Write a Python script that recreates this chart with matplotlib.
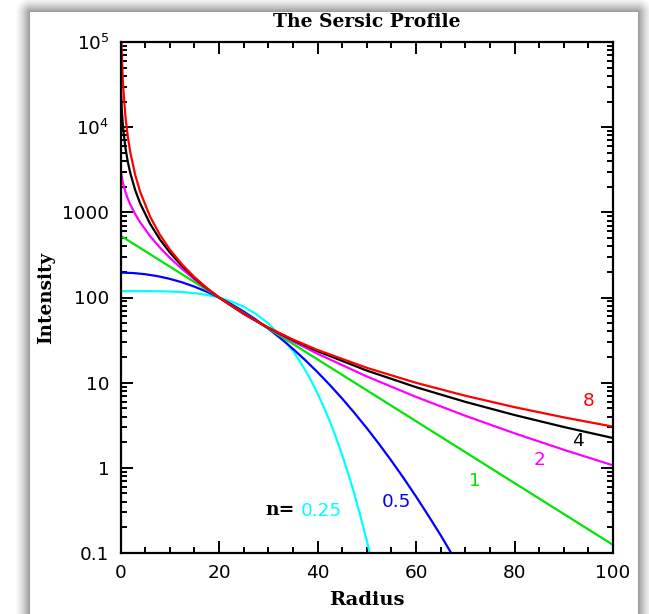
import numpy as np
import matplotlib
matplotlib.use("Agg")
import matplotlib.pyplot as plt
from matplotlib.ticker import FixedLocator, MultipleLocator, LogLocator, NullFormatter

# ---------------- data ----------------
radius_025 = [0, 2.5, 5, 7.5, 10, 12.5, 15, 17.5, 20, 22.5, 25, 27.5, 30, 32.5, 33.75, 35,
              36.25, 37.5, 38.75, 40, 41.25, 42.5, 43.75, 45, 46.25, 47.5, 48.75, 50, 51.25]
intensity_025 = [118.9, 118.85, 118.8, 118.4, 117.6, 115.8, 112.5, 107.4, 100.0, 90.1, 78.0,
                 64.1, 49.6, 35.6, 29.30, 23.5, 18.43, 14.06, 10.43, 7.50, 5.221, 3.51,
                 2.278, 1.42, 0.8514, 0.488, 0.2675, 0.140, 0.06935]

radius_05 = [0, 2.5, 5, 7.5, 10, 12.5, 15, 17.5, 20, 22.5, 25, 27.5, 30, 32.5, 35, 37.5,
             40, 42.5, 45, 47.5, 50, 52.5, 55, 57.5, 60, 62.5, 65, 67.5, 70]
intensity_05 = [195.9, 193.9, 187.8, 178.2, 165.6, 150.7, 134.2, 117.1, 100.0, 83.64, 68.5,
                54.94, 43.14, 33.18, 24.98, 18.42, 13.30, 9.402, 6.509, 4.412, 2.929, 1.9036,
                1.2115, 0.7551, 0.4608, 0.27535, 0.1619, 0.0923, 0.0521]

radius_1 = [0, 10, 20, 30, 40, 50, 60, 70, 80, 90, 100]
intensity_1 = [532.3, 230.7, 100.0, 43.34, 18.785, 8.142, 3.529, 1.529, 0.6628, 0.2873, 0.1245]

radius_fine = [0, 0.1, 0.25, 0.5, 1, 1.5, 2, 3, 4, 6, 8, 10, 12.5, 15, 17.5, 20,
               25, 30, 35, 40, 50, 60, 70, 80, 90, 100]
intensity_2 = [3930.3, 3031.7, 2607.1, 2199.5, 1729.4, 1438.1, 1230.9, 948.2, 761.0, 526.2,
               385.5, 293.1, 215.7, 163.5, 126.8, 100.0, 64.83, 43.82, 30.56, 21.86, 11.84,
               6.805, 4.088, 2.544, 1.630, 1.0695]
intensity_4 = [214237, 27872, 16487, 10149, 5699.3, 3870.7, 2869.5, 1811.3, 1268.8, 734.1,
               480.8, 338.8, 234.0, 170.3, 128.6, 100.0, 64.40, 44.12, 31.61, 23.43, 13.88,
               8.855, 5.956, 4.171, 3.017, 2.239]
intensity_8 = [6.366e8, 197388, 74054, 32619, 13340, 7619, 5031, 2732, 1737, 892.5,
               544.9, 367.0, 244.5, 173.9, 129.6, 100.0, 64.20, 44.29, 32.14, 24.22, 14.94,
               9.964, 7.024, 5.160, 3.914, 3.046]

curve_labels = ["0.25", "0.5", "1", "2", "4", "8"]
x_ticks = [0, 20, 40, 60, 80, 100]
x_tick_labels = ["0", "20", "40", "60", "80", "100"]
y_ticks = [1e5, 1e4, 1000, 100, 10, 1, 0.1]
y_tick_labels = [r"$10^5$", r"$10^4$", "1000", "100", "10", "1", "0.1"]

# ---------------- figure ----------------
W, H = 649, 614
fig = plt.figure(figsize=(W / 100, H / 100), dpi=100)

# background with drop shadow around white panel
bg = fig.add_axes([0, 0, 1, 1], zorder=-10)
yy, xx = np.mgrid[0:H, 0:W]
px0, px1, py0 = 30, 637, 12
dx = np.maximum(np.maximum(px0 - xx, xx - px1), 0)
dy = np.maximum(py0 - yy, 0)
d = np.sqrt(dx ** 2 + dy ** 2)
inside = (dx == 0) & (dy == 0)
shade = np.where(inside, 1.0, 1 - 0.42 * np.clip(1 - d / 16.0, 0, 1) ** 1.5)
bg.imshow(np.dstack([shade] * 3), extent=[0, W, H, 0], aspect="auto", interpolation="bilinear")
bg.set_xlim(0, W)
bg.set_ylim(H, 0)
bg.axis("off")

left, right, top, bottom = 120.5, 613, 42, 553
ax = fig.add_axes([left / W, 1 - bottom / H, (right - left) / W, (bottom - top) / H])
ax.set_facecolor("white")

lw = 1.6
ax.plot(radius_025, intensity_025, color="#00ffff", lw=lw)
ax.plot(radius_05, intensity_05, color="#0000ff", lw=lw)
ax.plot(radius_1, intensity_1, color="#00e600", lw=lw)
ax.plot(radius_fine, intensity_2, color="#ff00ff", lw=lw)
ax.plot(radius_fine, intensity_4, color="black", lw=lw)
ax.plot(radius_fine, intensity_8, color="#ff0000", lw=lw)

ax.set_yscale("log")
ax.set_xlim(0, 100)
ax.set_ylim(0.1, 1e5)

tick_font = dict(family="DejaVu Sans", size=13.3)
ax.xaxis.set_major_locator(FixedLocator(x_ticks))
ax.set_xticklabels(x_tick_labels, fontdict=tick_font)
ax.xaxis.set_minor_locator(MultipleLocator(5))
ax.yaxis.set_major_locator(FixedLocator(y_ticks))
ax.set_yticklabels(y_tick_labels, fontdict=tick_font)
ax.yaxis.set_minor_locator(LogLocator(base=10, subs=np.arange(2, 10), numticks=20))
ax.yaxis.set_minor_formatter(NullFormatter())

ax.tick_params(which="both", direction="in", top=True, right=True, width=1.4, color="black")
ax.tick_params(which="major", length=8.5)
ax.tick_params(which="minor", length=4.3)
ax.tick_params(axis="x", which="major", pad=8)
ax.tick_params(axis="y", which="major", pad=8)
for s in ax.spines.values():
    s.set_linewidth(1.6)

serif = dict(family="DejaVu Serif", weight="bold")
fig.text((left + right) / 2 / W, 1 - 22 / H, "The Sersic Profile", ha="center", va="center",
         fontsize=13.5, **serif)
fig.text((left + right) / 2 / W, 1 - 600 / H, "Radius", ha="center", va="center",
         fontsize=14, **serif)
fig.text(46.5 / W, 1 - 297.5 / H, "Intensity", ha="center", va="center", rotation=90,
         fontsize=13.2, **serif)

# curve annotations
lab_font = dict(family="DejaVu Sans", fontsize=13.3, ha="center", va="center")
ax.text(95.0, 6.09, curve_labels[5], color="#ff0000", **lab_font)
ax.text(92.95, 2.08, curve_labels[4], color="black", **lab_font)
ax.text(85.0, 1.236, curve_labels[3], color="#ff00ff", **lab_font)
ax.text(71.98, 0.70, curve_labels[2], color="#00e600", **lab_font)
ax.text(55.94, 0.394, curve_labels[1], color="#0000ff", **lab_font)
ax.text(40.85, 0.311, curve_labels[0], color="#00ffff", **lab_font)
ax.text(32.4, 0.32, "n=", color="black", family="DejaVu Serif", weight="bold",
        fontsize=13.5, ha="center", va="center")

fig.savefig("out.png", dpi=100)
